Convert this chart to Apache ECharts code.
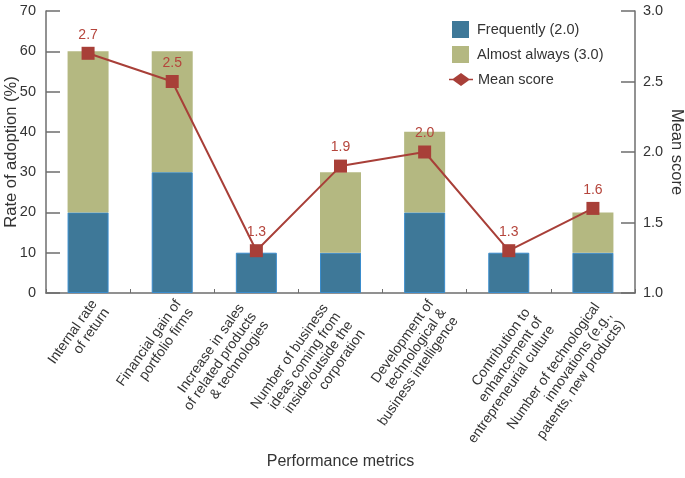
<!DOCTYPE html>
<html><head><meta charset="utf-8">
<script src="https://cdn.jsdelivr.net/npm/echarts@6/dist/echarts.min.js"></script>
<style>html,body{margin:0;padding:0;background:#fff}#c{width:685px;height:478px}</style>
</head><body><div id="c"></div>
<script>
const categories = [
  "Internal rate\nof return",
  "Financial gain of\nportfolio firms",
  "Increase in sales\nof related products\n& technologies",
  "Number of business\nideas coming from\ninside/outside the\ncorporation",
  "Development of\ntechnological &\nbusiness intelligence",
  "Contribution to\nenhancement of\nentrepreneurial culture",
  "Number of technological\ninnovations (e.g.,\npatents, new products)"
];
const frequently = [20, 30, 10, 10, 20, 10, 10];
const almostAlways = [40, 30, 0, 20, 20, 0, 10];
const meanScore = [2.7, 2.5, 1.3, 1.9, 2.0, 1.3, 1.6];

// label anchoring per category (layout only)
const labelVAlign = ['top', 'top', 'middle', 'middle', 'top', 'top', 'top'];
const labelLeadLines = [0, 0, 1, 2, 0, 1, 0];
const labelTrailSpaces = [0, 0, 4, 4, 0, 0, 1];

const FONT = "Liberation Sans, Arial, Helvetica, sans-serif";
const chart = echarts.init(document.getElementById('c'), null, {renderer: 'canvas'});
const axisLine = {show: true, lineStyle: {color: '#6e6e6e', width: 1.5}};
const catData = categories.map((c, i) => ({
  value: c,
  textStyle: {verticalAlign: labelVAlign[i]}
}));
const labelFormatter = (v, i) => {
  const pad = '\u00a0'.repeat(labelTrailSpaces[i]);
  const body = v.split('\n').map(l => l + pad).join('\n');
  return '\n'.repeat(labelLeadLines[i]) + body;
};
chart.setOption({
  animation: false,
  textStyle: {fontFamily: FONT},
  grid: {left: 46, right: 50, top: 11, bottom: 185, containLabel: false, outerBoundsMode: 'none'},
  legend: [
    {
      data: [{name: 'Frequently (2.0)', icon: 'rect'}, {name: 'Almost always (3.0)', icon: 'rect'}],
      orient: 'vertical', left: 447, top: 16,
      itemWidth: 17, itemHeight: 17, itemGap: 8,
      itemStyle: {borderWidth: 0},
      textStyle: {fontFamily: FONT, fontSize: 14.5, color: '#333', padding: [0, 0, 0, 3]}
    },
    {
      data: [{name: 'Mean score', icon: 'path://M0,5.8 L4,5.8 L12,0 L20,5.8 L24,5.8 L24,7.2 L20,7.2 L12,13 L4,7.2 L0,7.2 Z'}],
      orient: 'vertical', left: 444, top: 67,
      itemWidth: 24, itemHeight: 13,
      textStyle: {fontFamily: FONT, fontSize: 14.5, color: '#333', padding: [0, 0, 0, 0]}
    }
  ],
  xAxis: {
    type: 'category', data: catData,
    name: 'Performance metrics', nameLocation: 'middle', nameGap: 161, nameMoveOverlap: false,
    nameTextStyle: {fontFamily: FONT, fontSize: 16, color: '#333'},
    axisLine: axisLine,
    axisTick: {show: true, inside: true, length: 4, lineStyle: {color: '#6e6e6e'}},
    axisLabel: {rotate: 55, interval: 0, margin: 4, align: 'right', verticalAlign: 'top',
      formatter: labelFormatter,
      fontFamily: FONT, fontSize: 14, lineHeight: 15, color: '#333'}
  },
  yAxis: [
    {
      type: 'value', min: 0, max: 70, interval: 10,
      name: 'Rate of adoption (%)', nameLocation: 'middle', nameGap: 26, nameRotate: 90, nameMoveOverlap: false,
      nameTextStyle: {fontFamily: FONT, fontSize: 16.5, color: '#333'},
      axisLine: axisLine,
      axisTick: {show: true, inside: true, length: 14, lineStyle: {color: '#6e6e6e', width: 1.5}},
      axisLabel: {margin: 10, fontFamily: FONT, fontSize: 14.5, color: '#333'},
      splitLine: {show: false}
    },
    {
      type: 'value', min: 1.0, max: 3.0, interval: 0.5,
      name: 'Mean score', nameLocation: 'middle', nameGap: 33, nameRotate: -90, nameMoveOverlap: false,
      nameTextStyle: {fontFamily: FONT, fontSize: 16.5, color: '#333'},
      axisLine: axisLine,
      axisTick: {show: true, inside: true, length: 14, lineStyle: {color: '#6e6e6e', width: 1.5}},
      axisLabel: {margin: 8, fontFamily: FONT, fontSize: 14.5, color: '#333', formatter: v => v.toFixed(1)},
      splitLine: {show: false}
    }
  ],
  series: [
    {
      name: 'Frequently (2.0)', type: 'bar', stack: 's', data: frequently, barWidth: 41,
      itemStyle: {color: '#3e7898', borderColor: '#3a8ccc', borderWidth: 1}
    },
    {
      name: 'Almost always (3.0)', type: 'bar', stack: 's', data: almostAlways, barWidth: 41,
      itemStyle: {color: '#b4b881'}
    },
    {
      name: 'Mean score', type: 'line', yAxisIndex: 1, data: meanScore,
      symbol: 'rect', symbolSize: 13,
      lineStyle: {color: '#a83f38', width: 2},
      itemStyle: {color: '#a83f38'},
      label: {show: true, position: 'top', distance: 5, fontFamily: FONT, fontSize: 14, color: '#b5453c', formatter: p => p.value.toFixed(1)},
      z: 5
    }
  ]
});
</script></body></html>
